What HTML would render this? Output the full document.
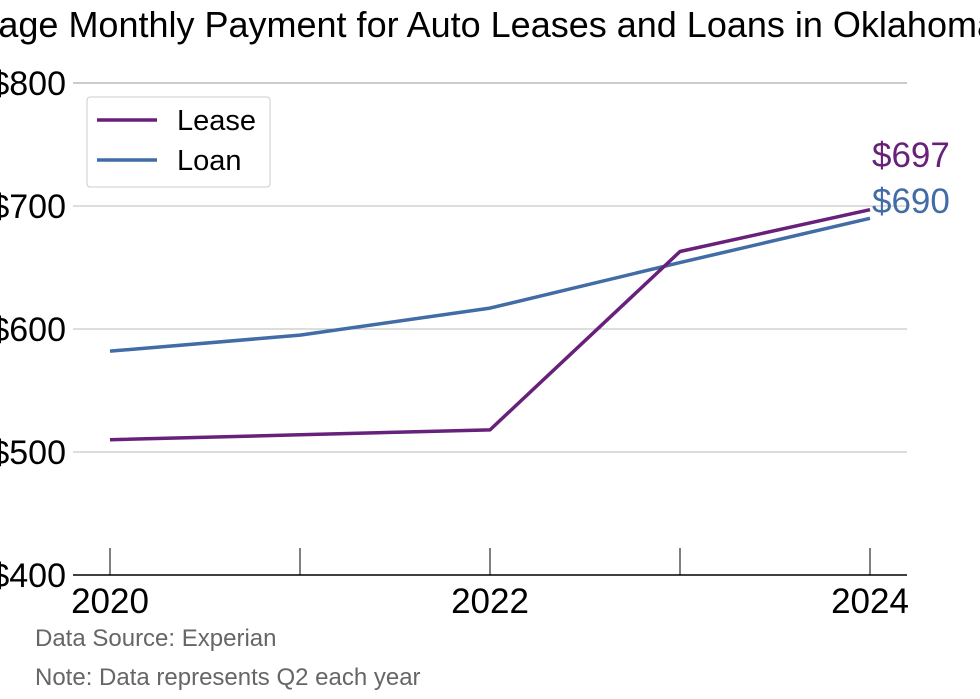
<!DOCTYPE html>
<html><head><meta charset="utf-8"><style>
html,body{margin:0;padding:0;background:#fff;overflow:hidden}
svg{display:block;font-family:"Liberation Sans",sans-serif}
</style></head><body>
<svg id="chart" width="980" height="699" viewBox="0 0 980 699">
<text x="-75" y="37" font-size="36" fill="#000">Average Monthly Payment for Auto Leases and Loans in Oklahoma</text>
<g id="grid"></g><g id="axes"></g><g id="series"></g>
<g>
<rect x="87" y="97" width="183" height="90" rx="3" fill="#fff" stroke="#ccc"/>
<line x1="97" y1="120" x2="157" y2="120" stroke="#68217a" stroke-width="3.5"/>
<text x="177" y="130" font-size="29">Lease</text>
<line x1="97" y1="160" x2="157" y2="160" stroke="#416ca6" stroke-width="3.5"/>
<text x="177" y="170" font-size="29">Loan</text>
</g>
<text x="35" y="646" font-size="24" fill="#666">Data Source: Experian</text>
<text x="35" y="685" font-size="24" fill="#666">Note: Data represents Q2 each year</text>
</svg>
<script>
const years=[2020,2021,2022,2023,2024];
const leaseValues=[510,514,518,663,697];
const loanValues=[582,595,617,654,690];
const yTicks=[400,500,600,700,800];
const xLabels=[2020,2022,2024];
const NS="http://www.w3.org/2000/svg";
const x=v=>110+(v-2020)*190;
const y=v=>575-(v-400)*1.23;
function mk(tag,attrs,parent,text){const e=document.createElementNS(NS,tag);for(const k in attrs)e.setAttribute(k,attrs[k]);if(text!==undefined)e.textContent=text;document.getElementById(parent).appendChild(e);return e;}
yTicks.forEach(t=>{
  if(t>400){const l=mk('line',{x1:73,x2:907,y1:y(t),y2:y(t),stroke:t===800?'#999':'#bbb','stroke-width':1},'grid');
  
  }
  const tx=mk('text',{x:66,y:y(t)+12,'font-size':34,'text-anchor':'end'},'axes','$'+t);
  
  
});
const ax=mk('line',{x1:73,x2:907,y1:575,y2:575,stroke:'#000','stroke-width':1.5},'axes');


years.forEach(yr=>{
  const t=mk('line',{x1:x(yr),x2:x(yr),y1:548,y2:575,stroke:'#000','stroke-width':1},'axes');
  
  
});
xLabels.forEach(yr=>{
  const t=mk('text',{x:x(yr),y:613,'font-size':35,'text-anchor':'middle'},'axes',String(yr));
  
  
});
function series(vals,color,name,labelY){
  const p=mk('polyline',{points:vals.map((v,i)=>x(years[i])+','+y(v)).join(' '),fill:'none',stroke:color,'stroke-width':3.5,'stroke-linejoin':'round'},'series');
  
  
  const last=vals[vals.length-1];
  const t=mk('text',{x:872,y:labelY,'font-size':35,fill:color},'series','$'+last);
  
  
}
series(loanValues,'#416ca6','loan',213);
series(leaseValues,'#68217a','lease',167);
</script>
</body></html>
